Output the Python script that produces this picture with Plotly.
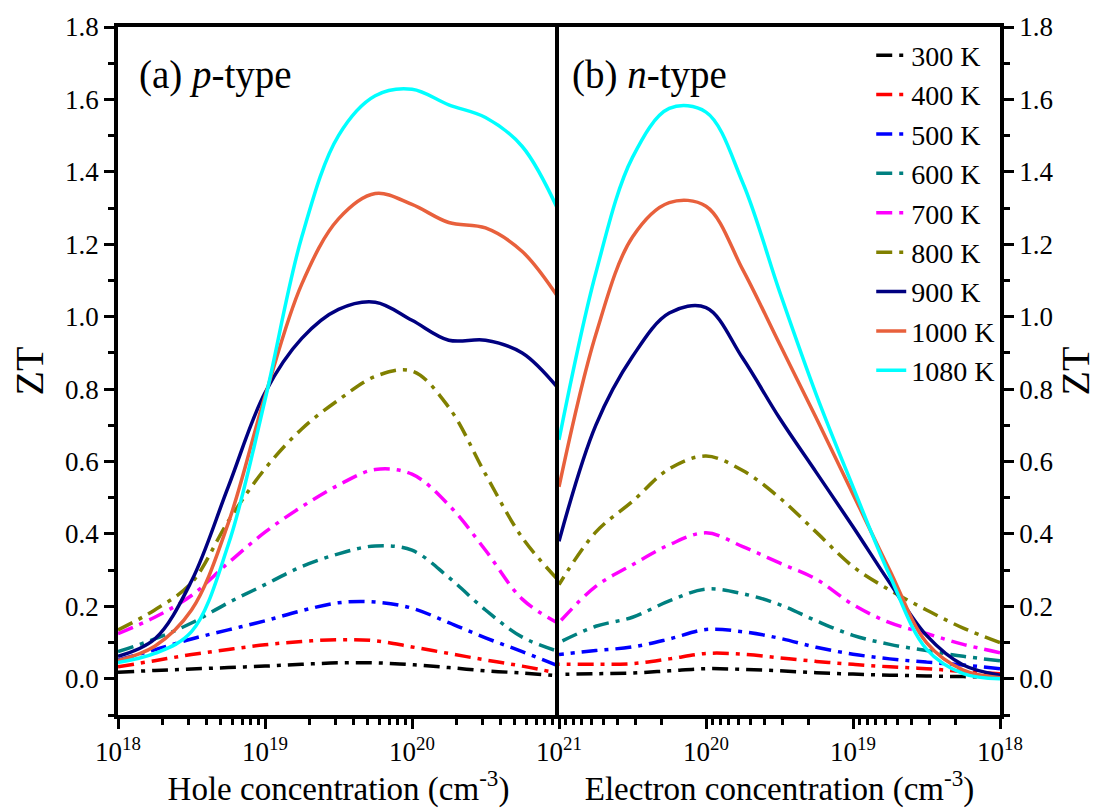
import plotly.graph_objects as go

# log10 of carrier concentration (cm^-3)
log_conc = [18.0, 18.25, 18.5, 18.75, 19.0, 19.25, 19.5, 19.75, 20.0, 20.25, 20.5, 20.75, 21.0]

temperatures = ["300 K", "400 K", "500 K", "600 K", "700 K", "800 K", "900 K", "1000 K", "1080 K"]

# (a) p-type ZT vs hole concentration
p_300 = [0.018, 0.023, 0.027, 0.031, 0.035, 0.040, 0.044, 0.044, 0.039, 0.031, 0.022, 0.016, 0.008]
p_400 = [0.033, 0.050, 0.067, 0.081, 0.094, 0.103, 0.108, 0.105, 0.088, 0.070, 0.052, 0.035, 0.015]
p_500 = [0.052, 0.080, 0.110, 0.135, 0.160, 0.188, 0.210, 0.212, 0.195, 0.155, 0.113, 0.075, 0.035]
p_600 = [0.075, 0.110, 0.154, 0.210, 0.260, 0.310, 0.345, 0.367, 0.355, 0.280, 0.190, 0.115, 0.075]
p_700 = [0.125, 0.170, 0.230, 0.320, 0.405, 0.475, 0.535, 0.578, 0.565, 0.480, 0.355, 0.220, 0.152]
p_800 = [0.135, 0.190, 0.265, 0.435, 0.580, 0.690, 0.770, 0.835, 0.850, 0.750, 0.565, 0.390, 0.270]
p_900 = [0.062, 0.110, 0.270, 0.530, 0.790, 0.940, 1.020, 1.040, 0.990, 0.935, 0.935, 0.900, 0.800]
p_1000 = [0.050, 0.090, 0.190, 0.430, 0.780, 1.090, 1.270, 1.340, 1.310, 1.260, 1.245, 1.180, 1.050]
p_1080 = [0.045, 0.070, 0.130, 0.370, 0.770, 1.220, 1.500, 1.610, 1.628, 1.585, 1.550, 1.470, 1.290]

# (b) n-type ZT vs electron concentration (same log_conc grid)
n_300 = [0.005, 0.006, 0.008, 0.010, 0.013, 0.017, 0.022, 0.026, 0.028, 0.022, 0.016, 0.014, 0.012]
n_400 = [0.014, 0.020, 0.028, 0.033, 0.040, 0.048, 0.058, 0.068, 0.070, 0.055, 0.042, 0.040, 0.040]
n_500 = [0.028, 0.038, 0.046, 0.055, 0.068, 0.087, 0.112, 0.130, 0.136, 0.110, 0.088, 0.078, 0.067]
n_600 = [0.050, 0.062, 0.078, 0.095, 0.120, 0.160, 0.205, 0.235, 0.248, 0.215, 0.170, 0.145, 0.100]
n_700 = [0.072, 0.095, 0.125, 0.155, 0.205, 0.275, 0.320, 0.365, 0.403, 0.370, 0.315, 0.255, 0.155]
n_800 = [0.100, 0.140, 0.190, 0.245, 0.310, 0.405, 0.500, 0.575, 0.615, 0.580, 0.490, 0.405, 0.260]
n_900 = [0.010, 0.038, 0.120, 0.265, 0.420, 0.570, 0.720, 0.885, 1.025, 1.010, 0.890, 0.700, 0.380]
n_1000 = [0.003, 0.024, 0.100, 0.300, 0.510, 0.720, 0.925, 1.130, 1.305, 1.315, 1.220, 0.950, 0.530]
n_1080 = [0.000, 0.014, 0.082, 0.285, 0.530, 0.785, 1.070, 1.370, 1.565, 1.575, 1.440, 1.120, 0.660]

colors = ["#000000", "#FF0000", "#0000FF", "#008080", "#FF00FF", "#808000", "#000080", "#E8603C", "#00FFFF"]
dashdot = "16px,7px,4px,7px"
dashes = [dashdot] * 6 + ["solid"] * 3

p_series = [p_300, p_400, p_500, p_600, p_700, p_800, p_900, p_1000, p_1080]
n_series = [n_300, n_400, n_500, n_600, n_700, n_800, n_900, n_1000, n_1080]

conc = [10 ** v for v in log_conc]

FONT = "Liberation Serif, Times New Roman, serif"

fig = go.Figure()
for i, name in enumerate(temperatures):
    fig.add_trace(go.Scatter(
        x=conc, y=p_series[i], mode="lines", name=name,
        line=dict(color=colors[i], width=3.5, dash=dashes[i], shape="spline", smoothing=1.0),
        xaxis="x", yaxis="y", showlegend=True))
for i, name in enumerate(temperatures):
    fig.add_trace(go.Scatter(
        x=conc, y=n_series[i], mode="lines", name=name,
        line=dict(color=colors[i], width=3.5, dash=dashes[i], shape="spline", smoothing=1.0),
        xaxis="x2", yaxis="y2", showlegend=False))

tick_font = dict(family=FONT, size=27, color="black")
minor_x = dict(ticks="outside", ticklen=6, tickwidth=2.5, tickcolor="black", dtick="D1", showgrid=False)
minor_y = dict(ticks="outside", ticklen=6, tickwidth=2.5, tickcolor="black", dtick=0.1, showgrid=False)

common_x = dict(type="log", showline=True, linecolor="black", linewidth=3.5, mirror=True,
                ticks="outside", ticklen=10, tickwidth=3, tickcolor="black",
                showgrid=False, zeroline=False, tickfont=tick_font, minor=minor_x,
                title_font=dict(family=FONT, size=33, color="black"), title_standoff=0)
common_y = dict(range=[-0.1, 1.8], showline=True, linecolor="black", linewidth=3.5,
                ticks="outside", ticklen=10, tickwidth=3, tickcolor="black",
                tickvals=[0.0, 0.2, 0.4, 0.6, 0.8, 1.0, 1.2, 1.4, 1.6, 1.8],
                ticktext=["0.0", "0.2", "0.4", "0.6", "0.8", "1.0", "1.2", "1.4", "1.6", "1.8"],
                showgrid=False, zeroline=False, tickfont=tick_font, minor=minor_y,
                title_text="ZT", title_font=dict(family=FONT, size=40, color="black"))

fig.update_layout(
    width=1099, height=808,
    margin=dict(l=118, r=93, t=27, b=93),
    paper_bgcolor="white", plot_bgcolor="white",
    font=dict(family=FONT, color="black"),
    xaxis=dict(common_x, domain=[0, 0.5], range=[18, 21], anchor="y",
               tickvals=[1e18, 1e19, 1e20, 1e21],
               ticktext=["10<sup>18</sup>", "10<sup>19</sup>", "10<sup>20</sup>", "10<sup>21</sup>"],
               title_text="Hole concentration (cm<sup>-3</sup>)"),
    xaxis2=dict(common_x, domain=[0.5, 1], range=[21, 18], anchor="y2",
                tickvals=[1e20, 1e19, 1e18],
                ticktext=["10<sup>20</sup>", "10<sup>19</sup>", "10<sup>18</sup>"],
                title_text="Electron concentration (cm<sup>-3</sup>)"),
    yaxis=dict(common_y, anchor="x", side="left", mirror=False, title_standoff=10),
    yaxis2=dict(common_y, anchor="x2", side="right", mirror=True, title_standoff=6),
    legend=dict(x=0.854, y=0.995, xanchor="left", yanchor="top",
                font=dict(family=FONT, size=28, color="black"),
                bgcolor="rgba(0,0,0,0)", borderwidth=0, tracegroupgap=0,
                itemwidth=30),
    showlegend=True,
    annotations=[
        dict(text="(a) <i>p</i>-type", x=0.022, y=0.93, xref="paper", yref="paper",
             xanchor="left", yanchor="middle", showarrow=False,
             font=dict(family=FONT, size=39, color="black")),
        dict(text="(b) <i>n</i>-type", x=0.512, y=0.93, xref="paper", yref="paper",
             xanchor="left", yanchor="middle", showarrow=False,
             font=dict(family=FONT, size=39, color="black")),
    ],
)

fig.write_html("out.html")
